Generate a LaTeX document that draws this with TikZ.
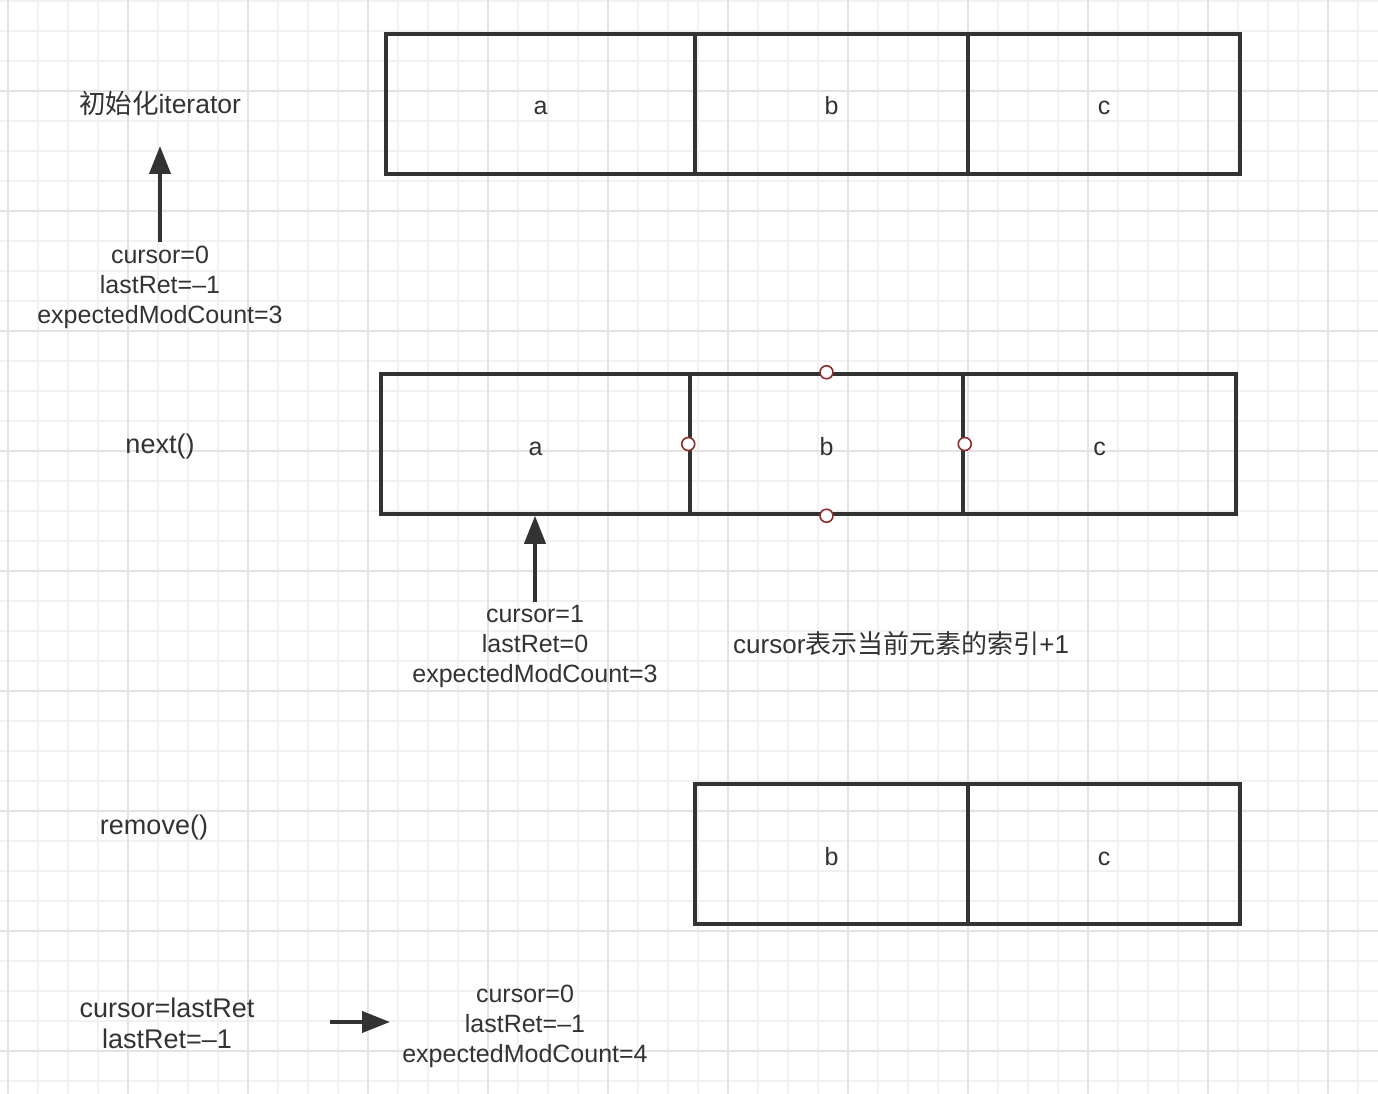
\documentclass[tikz,border=0pt]{standalone}
\usepackage{fontspec}
\setmainfont{Liberation Sans}
\newfontfamily\cjk{Noto Sans CJK SC}
\usetikzlibrary{arrows.meta}
\definecolor{ink}{HTML}{333333}
\definecolor{gridminor}{HTML}{F1F1F1}
\definecolor{gridmajor}{HTML}{E3E3E3}
\definecolor{handlecol}{HTML}{8E2C2C}
\begin{document}
\begin{tikzpicture}[x=1pt,y=-1pt,
  txt/.style={inner sep=0pt, anchor=base, text=ink, font=\fontsize{25}{30}\selectfont},
  big/.style={font=\fontsize{27}{32}\selectfont},
  cell/.style={draw=ink, line width=3.5pt, minimum height=140pt, inner sep=0pt, text=ink,
    font=\fontsize{25}{30}\selectfont, text height=22pt, text depth=0pt},
  arr/.style={draw=ink, line width=4pt, -{Triangle[length=28pt,width=21pt]}},
  hdl/.style={circle, draw=handlecol, fill=white, line width=1.6pt, minimum size=13pt, inner sep=0pt}]
% canvas
\fill[white] (0,0) rectangle (1378,1094);
\useasboundingbox (0,0) rectangle (1378,1094);
% grid
\foreach \k in {0,...,45} {
  \pgfmathsetmacro{\gx}{8+30*\k}
  \draw[gridminor, line width=1.5pt] (\gx,0) -- (\gx,1094);
}
\foreach \k in {0,...,36} {
  \pgfmathsetmacro{\gy}{1+30*\k}
  \draw[gridminor, line width=1.5pt] (0,\gy) -- (1378,\gy);
}
\foreach \k in {0,...,11} {
  \pgfmathsetmacro{\gx}{8+120*\k}
  \draw[gridmajor, line width=1.5pt] (\gx,0) -- (\gx,1094);
}
\foreach \k in {0,...,8} {
  \pgfmathsetmacro{\gy}{91+120*\k}
  \draw[gridmajor, line width=1.5pt] (0,\gy) -- (1378,\gy);
}
% row 1
\node[cell, minimum width=309pt] (a1) at (540.5,104) {a};
\node[cell, minimum width=273pt] (b1) at (831.5,104) {b};
\node[cell, minimum width=272pt] (c1) at (1104,104) {c};
% row 2
\node[cell, minimum width=309pt] (a2) at (535.5,444) {a};
\node[cell, minimum width=273pt] (b2) at (826.5,444) {b};
\node[cell, minimum width=273pt] (c2) at (1099.5,444) {c};
% row 3
\node[cell, minimum width=273pt] (b3) at (831.5,854) {b};
\node[cell, minimum width=272pt] (c3) at (1104,854) {c};
% selection handles on b2
\node[hdl] (h1) at (b2.west) {};
\node[hdl] (h2) at (b2.east) {};
\node[hdl] (h3) at (b2.north) {};
\node[hdl] (h4) at (b2.south) {};
% left labels
\node[txt, font=\fontsize{26.5}{32}\selectfont] (init) at (160,114) {{\cjk 初始化}iterator};
\node[txt, big] (next) at (160,453) {next()};
\node[txt, big] (remove) at (154,834) {remove()};
% state 1
\node[txt] (s1a) at (160,263) {cursor=0};
\node[txt] (s1b) at (160,293) {lastRet=–1};
\node[txt] (s1c) at (160,323) {expectedModCount=3};
% state 2
\node[txt] (s2a) at (535,622) {cursor=1};
\node[txt] (s2b) at (535,652) {lastRet=0};
\node[txt] (s2c) at (535,682) {expectedModCount=3};
\node[txt, anchor=base west, font=\fontsize{26}{31}\selectfont] (note) at (733,653) {cursor{\cjk 表示当前元素的索引}+1};
% bottom
\node[txt, big] (r1) at (167,1017) {cursor=lastRet};
\node[txt, big] (r2) at (167,1048) {lastRet=–1};
\node[txt] (s3a) at (525,1002) {cursor=0};
\node[txt] (s3b) at (525,1032) {lastRet=–1};
\node[txt] (s3c) at (525,1062) {expectedModCount=4};
% arrows
\coordinate (t1) at (160,146);
\draw[arr] ([yshift=3pt]s1a.north) -- (t1);
\draw[arr] ([yshift=3pt]s2a.north) -- (s2a.north |- a2.south);
\coordinate (f3) at (330,1022);
\coordinate (t3) at (390,1022);
\draw[arr] (f3) -- (t3);
\end{tikzpicture}
\end{document}
